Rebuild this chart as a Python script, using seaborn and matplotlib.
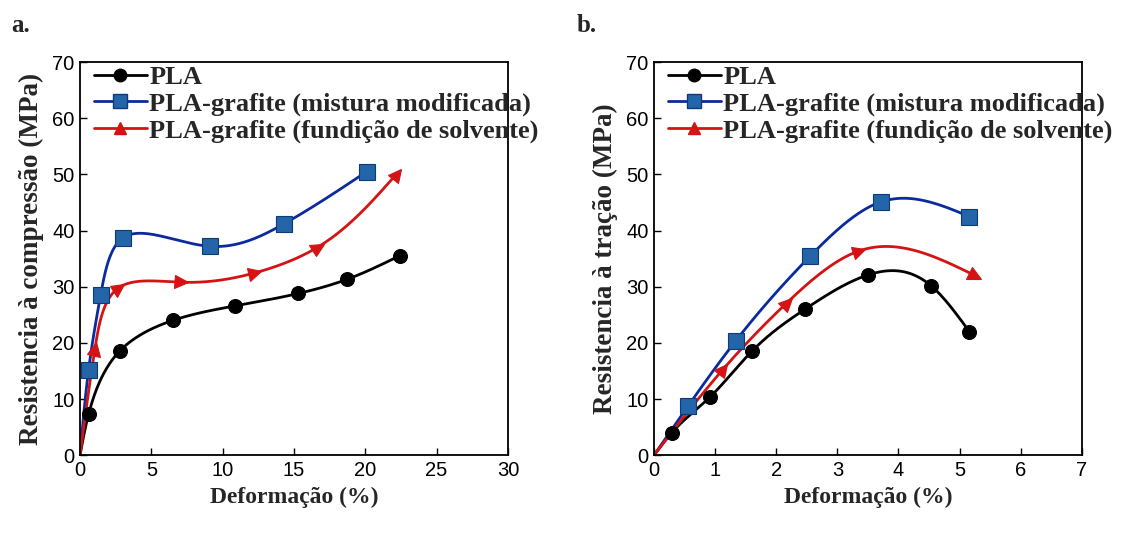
import numpy as np
import pandas as pd
import matplotlib
matplotlib.use("Agg")
import matplotlib.pyplot as plt
from matplotlib.lines import Line2D
from matplotlib.markers import MarkerStyle
from matplotlib.transforms import Affine2D
import seaborn as sns

# ---------------- data ----------------
# (a) compression
a_pla_x = [0.0, 0.6, 2.8, 6.5, 10.9, 15.3, 18.7, 22.4]
a_pla_y = [0.0, 7.3, 18.6, 24.0, 26.6, 28.8, 31.3, 35.5]
a_mix_x = [0.0, 0.6, 1.45, 3.0, 9.1, 14.3, 20.1]
a_mix_y = [0.0, 15.2, 28.6, 38.7, 37.2, 41.2, 50.5]
a_sol_x = [0.0, 1.05, 2.7, 7.1, 12.3, 16.7, 22.2]
a_sol_y = [0.0, 19.0, 29.8, 30.8, 32.5, 37.1, 50.1]
# (b) tension
b_pla_x = [0.0, 0.29, 0.92, 1.6, 2.47, 3.5, 4.53, 5.16]
b_pla_y = [0.0, 4.0, 10.4, 18.5, 26.0, 32.1, 30.2, 22.0]
b_mix_x = [0.0, 0.56, 1.34, 2.56, 3.71, 5.16]
b_mix_y = [0.0, 8.8, 20.4, 35.5, 45.1, 42.5]
b_sol_x = [0.0, 1.13, 2.17, 3.36, 5.25]
b_sol_y = [0.0, 15.3, 27.1, 36.4, 32.0]

labels = ["PLA", "PLA-grafite (mistura modificada)", "PLA-grafite (fundição de solvente)"]
xlabels = ["Deformação (%)", "Deformação (%)"]
ylabels = ["Resistencia à compressão (MPa)", "Resistencia à tração (MPa)"]
panel_tags = ["a.", "b."]
xlims = [(0, 30), (0, 7)]
xticks = [np.arange(0, 31, 5), np.arange(0, 8, 1)]
yticks = np.arange(0, 71, 10)

C_BLACK = "#000000"
C_BLUE_LINE = "#0b2a9e"
C_BLUE_FACE = "#2365a8"
C_RED = "#d41414"


def spline_coeffs(t, y):
    t = np.asarray(t, float)
    y = np.asarray(y, float)
    m = len(t)
    h = np.diff(t)
    A = np.zeros((m, m))
    r = np.zeros(m)
    A[0, 0] = 1
    A[-1, -1] = 1
    for i in range(1, m - 1):
        A[i, i - 1] = h[i - 1]
        A[i, i] = 2 * (h[i - 1] + h[i])
        A[i, i + 1] = h[i]
        r[i] = 3 * ((y[i + 1] - y[i]) / h[i] - (y[i] - y[i - 1]) / h[i - 1])
    c = np.linalg.solve(A, r)
    b = (np.diff(y) / h) - h * (2 * c[:-1] + c[1:]) / 3
    d = np.diff(c) / (3 * h)
    return t, y, b, c, d


def spline_eval(coef, ts):
    t, y, b, c, d = coef
    idx = np.clip(np.searchsorted(t, ts, side="right") - 1, 0, len(t) - 2)
    u = ts - t[idx]
    val = y[idx] + b[idx] * u + c[idx] * u ** 2 + d[idx] * u ** 3
    der = b[idx] + 2 * c[idx] * u + 3 * d[idx] * u ** 2
    return val, der


def smooth(x, y, sx, sy, parametric, n=500):
    px = np.asarray(x, float) * sx
    py = np.asarray(y, float) * sy
    if parametric:
        seg = np.hypot(np.diff(px), np.diff(py))
        t = np.concatenate([[0], np.cumsum(seg)])
    else:
        t = px
    cx = spline_coeffs(t, px)
    cy = spline_coeffs(t, py)
    ts = np.linspace(0, t[-1], n)
    X, _ = spline_eval(cx, ts)
    Y, _ = spline_eval(cy, ts)
    _, dX = spline_eval(cx, t)
    _, dY = spline_eval(cy, t)
    return X / sx, Y / sy, np.degrees(np.arctan2(dY, dX))


sns.set_theme(style="ticks")
plt.rcParams["font.family"] = ["Liberation Sans", "DejaVu Sans"]
serif = ["Liberation Serif", "DejaVu Serif"]

fig = plt.figure(figsize=(11.35, 5.4), dpi=100)
axes = [fig.add_axes([0.0705, 0.157, 0.377, 0.728]),
        fig.add_axes([0.5762, 0.157, 0.377, 0.728])]

panels = [
    [(a_pla_x, a_pla_y), (a_mix_x, a_mix_y), (a_sol_x, a_sol_y)],
    [(b_pla_x, b_pla_y), (b_mix_x, b_mix_y), (b_sol_x, b_sol_y)],
]
param_mode = [True, False]

styles = [
    dict(line=C_BLACK, face=C_BLACK, edge=C_BLACK, marker="o", ms=10),
    dict(line=C_BLUE_LINE, face=C_BLUE_FACE, edge="#0d3a78", marker="s", ms=11),
    dict(line=C_RED, face=C_RED, edge=C_RED, marker="^", ms=9.5),
]

for k, ax in enumerate(axes):
    ax.set_xlim(*xlims[k])
    ax.set_ylim(0, 70)
    ax.set_xticks(xticks[k])
    ax.set_yticks(yticks)
    ax.tick_params(direction="in", length=5, width=1.0, labelsize=14.5,
                   colors="black", pad=4)
    for sp in ax.spines.values():
        sp.set_visible(True)
        sp.set_linewidth(1.3)
        sp.set_color("black")

    bb = ax.get_position()
    sx = bb.width * fig.get_figwidth() * 100 / (xlims[k][1] - xlims[k][0])
    sy = bb.height * fig.get_figheight() * 100 / 70.0

    for (x, y), st in zip(panels[k], styles):
        xs, ys, angs = smooth(x, y, sx, sy, param_mode[k])
        df = pd.DataFrame({"x": xs, "y": ys})
        sns.lineplot(data=df, x="x", y="y", ax=ax, color=st["line"], lw=2.0,
                     sort=False, estimator=None, legend=False)
        for xi, yi, ai in zip(x[1:], y[1:], angs[1:]):
            if st["marker"] == "^":
                mk = MarkerStyle("^", transform=Affine2D().rotate_deg(ai - 90))
            else:
                mk = st["marker"]
            ax.plot([xi], [yi], marker=mk, ms=st["ms"], mfc=st["face"],
                    mec=st["edge"], mew=0.8, ls="none", zorder=5, clip_on=False)
    ax.set_xlabel(xlabels[k], fontsize=17, fontweight="bold", family=serif, labelpad=5)
    ax.set_ylabel(ylabels[k], fontsize=19.5, fontweight="bold", family=serif, labelpad=6)

    handles = [Line2D([], [], color=st["line"], lw=2.0, marker=st["marker"],
                      ms=st["ms"] - 1, mfc=st["face"], mec=st["edge"])
               for st in styles]
    ax.legend(handles, labels, loc="upper left", frameon=False,
              prop=dict(family=serif, weight="bold", size=19),
              handlelength=2.0, handletextpad=0.1, labelspacing=0.12,
              borderaxespad=0.1, borderpad=0.1, bbox_to_anchor=(0.02, 1.005))

fig.text(0.010, 0.975, panel_tags[0], fontsize=18, fontweight="bold", family=serif, va="top")
fig.text(0.508, 0.975, panel_tags[1], fontsize=18, fontweight="bold", family=serif, va="top")

fig.savefig("out.png", dpi=100, facecolor="white")
